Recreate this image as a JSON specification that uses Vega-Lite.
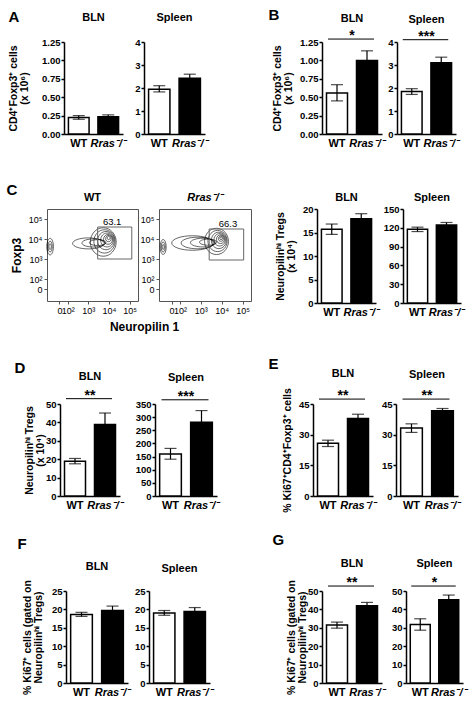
{
"$schema": "https://vega.github.io/schema/vega-lite/v6.json",
"background": "white",
"padding": {"left": 5, "top": 8, "right": 2, "bottom": 2},
"config": {
 "font": "Liberation Sans",
 "view": {"stroke": null},
 "axis": {"grid": false, "domainColor": "black", "domainWidth": 1.5, "tickColor": "black", "tickWidth": 1.5, "tickSize": 3, "labelColor": "black", "labelFontSize": 9.5, "labelFontWeight": "bold", "labelPadding": 1, "labelOverlap": false, "labelFlush": false, "titleColor": "black", "titleFontSize": 10.5, "titleFontWeight": "bold", "titleLineHeight": 11, "titlePadding": 4},
 "title": {"fontSize": 11, "fontWeight": "bold", "color": "black"}
},
"datasets": {
 "bars": [
  {"p":"A","t":"BLN","g":"WT","m":0.225,"lo":0.2,"hi":0.25},
  {"p":"A","t":"BLN","g":"Rras⁻/⁻","m":0.235,"lo":0.21,"hi":0.26},
  {"p":"A","t":"Spleen","g":"WT","m":1.95,"lo":1.83,"hi":2.1},
  {"p":"A","t":"Spleen","g":"Rras⁻/⁻","m":2.42,"lo":2.24,"hi":2.6},
  {"p":"B","t":"BLN","g":"WT","m":0.557,"lo":0.45,"hi":0.67},
  {"p":"B","t":"BLN","g":"Rras⁻/⁻","m":1.0,"lo":0.88,"hi":1.13},
  {"p":"B","t":"Spleen","g":"WT","m":1.85,"lo":1.72,"hi":1.97},
  {"p":"B","t":"Spleen","g":"Rras⁻/⁻","m":3.1,"lo":2.86,"hi":3.34},
  {"p":"C","t":"BLN","g":"WT","m":15.7,"lo":14.6,"hi":16.8},
  {"p":"C","t":"BLN","g":"Rras⁻/⁻","m":17.9,"lo":16.8,"hi":19},
  {"p":"C","t":"Spleen","g":"WT","m":117.5,"lo":114,"hi":121},
  {"p":"C","t":"Spleen","g":"Rras⁻/⁻","m":124.5,"lo":120.5,"hi":128.5},
  {"p":"D","t":"BLN","g":"WT","m":18.9,"lo":17.5,"hi":20.4},
  {"p":"D","t":"BLN","g":"Rras⁻/⁻","m":38.8,"lo":32.5,"hi":45.1},
  {"p":"D","t":"Spleen","g":"WT","m":160,"lo":140,"hi":181},
  {"p":"D","t":"Spleen","g":"Rras⁻/⁻","m":281,"lo":237,"hi":325},
  {"p":"E","t":"BLN","g":"WT","m":25.8,"lo":24.2,"hi":27.3},
  {"p":"E","t":"BLN","g":"Rras⁻/⁻","m":37.9,"lo":35.8,"hi":40},
  {"p":"E","t":"Spleen","g":"WT","m":33.2,"lo":31.1,"hi":35.3},
  {"p":"E","t":"Spleen","g":"Rras⁻/⁻","m":41.7,"lo":40.6,"hi":42.8},
  {"p":"F","t":"BLN","g":"WT","m":18.6,"lo":18.1,"hi":19.2},
  {"p":"F","t":"BLN","g":"Rras⁻/⁻","m":19.7,"lo":18.5,"hi":20.9},
  {"p":"F","t":"Spleen","g":"WT","m":19.0,"lo":18.4,"hi":19.7},
  {"p":"F","t":"Spleen","g":"Rras⁻/⁻","m":19.4,"lo":18.3,"hi":20.5},
  {"p":"G","t":"BLN","g":"WT","m":31.5,"lo":29.8,"hi":33.1},
  {"p":"G","t":"BLN","g":"Rras⁻/⁻","m":42,"lo":40.2,"hi":43.8},
  {"p":"G","t":"Spleen","g":"WT","m":31.8,"lo":28.7,"hi":34.9},
  {"p":"G","t":"Spleen","g":"Rras⁻/⁻","m":45.3,"lo":42.8,"hi":47.8}
 ],
 "sig": [
  {"p":"B","t":"BLN","ys":1.29,"s":"*"},
  {"p":"B","t":"Spleen","ys":4.1,"s":"***"},
  {"p":"D","t":"BLN","ys":52.9,"s":"**"},
  {"p":"D","t":"Spleen","ys":366,"s":"***"},
  {"p":"E","t":"BLN","ys":47.4,"s":"**"},
  {"p":"E","t":"Spleen","ys":47.4,"s":"**"},
  {"p":"G","t":"BLN","ys":52.7,"s":"**"},
  {"p":"G","t":"Spleen","ys":52.7,"s":"*"}
 ],
 "flow": [
  {"plot":"WT","kind":"blob","cx":3.72,"cy":3.85,"r":0.78},
  {"plot":"WT","kind":"blob","cx":3.78,"cy":3.88,"r":0.64},
  {"plot":"WT","kind":"blob","cx":3.85,"cy":3.92,"r":0.5},
  {"plot":"WT","kind":"blob","cx":3.9,"cy":3.95,"r":0.38},
  {"plot":"WT","kind":"blob","cx":3.95,"cy":3.98,"r":0.27},
  {"plot":"WT","kind":"blob","cx":3.97,"cy":4.02,"r":0.17},
  {"plot":"WT","kind":"blob","cx":3.98,"cy":4.05,"r":0.09},
  {"plot":"WT","kind":"tail","cx":3.0,"cy":3.78,"r":0.95},
  {"plot":"WT","kind":"tail","cx":3.25,"cy":3.8,"r":0.7},
  {"plot":"WT","kind":"tail","cx":3.45,"cy":3.82,"r":0.5},
  {"plot":"WT","kind":"side","cx":1.15,"cy":3.62,"r":0.2},
  {"plot":"WT","kind":"side","cx":1.15,"cy":3.62,"r":0.13},
  {"plot":"WT","kind":"side","cx":1.15,"cy":3.62,"r":0.07},
  {"plot":"KO","kind":"blob","cx":3.75,"cy":3.88,"r":0.72},
  {"plot":"KO","kind":"blob","cx":3.8,"cy":3.9,"r":0.58},
  {"plot":"KO","kind":"blob","cx":3.86,"cy":3.93,"r":0.45},
  {"plot":"KO","kind":"blob","cx":3.9,"cy":3.96,"r":0.34},
  {"plot":"KO","kind":"blob","cx":3.94,"cy":3.99,"r":0.24},
  {"plot":"KO","kind":"blob","cx":3.96,"cy":4.02,"r":0.15},
  {"plot":"KO","kind":"blob","cx":3.97,"cy":4.04,"r":0.08},
  {"plot":"KO","kind":"tail","cx":2.6,"cy":3.8,"r":1.25},
  {"plot":"KO","kind":"tail","cx":2.85,"cy":3.8,"r":1.0},
  {"plot":"KO","kind":"tail","cx":3.1,"cy":3.82,"r":0.75},
  {"plot":"KO","kind":"tail","cx":3.35,"cy":3.84,"r":0.52},
  {"plot":"KO","kind":"side","cx":1.2,"cy":3.6,"r":0.18},
  {"plot":"KO","kind":"side","cx":1.2,"cy":3.6,"r":0.12},
  {"plot":"KO","kind":"side","cx":1.2,"cy":3.6,"r":0.06}
 ],
 "gates": [
  {"plot":"WT","gx1":3.45,"gx2":5.1,"gy1":3.0,"gy2":4.6,"lx":4.15,"ly":4.6,"pct":"63.1"},
  {"plot":"KO","gx1":3.4,"gx2":5.05,"gy1":2.95,"gy2":4.5,"lx":4.3,"ly":4.5,"pct":"66.3"}
 ]
},
"spacing": 23,
"vconcat": [
{"spacing": 34, "vconcat": [
 {"spacing": 2, "hconcat": [
  {"width": 1, "height": 1, "data": {"values": []}, "mark": "point", "encoding": {}},
  {"spacing": 60, "hconcat": [
  {"title": {"text": "A", "anchor": "start", "fontSize": 15, "fontWeight": "bold", "offset": -13}, "spacing": 8, "hconcat": [
   {"width": 59, "height": 92, "title": {"text": "BLN", "offset": 18, "dy": 4, "frame": "group"},
    "layer": [
     {"data": {"name": "bars"}, "transform": [{"filter": "datum.p == 'A' && datum.t == 'BLN'"}],
      "encoding": {"x": {"field": "g", "type": "nominal", "sort": null, "scale": {"domain": ["WT", "Rras⁻/⁻"], "paddingInner": 0.3, "paddingOuter": 0.15}, "axis": {"title": null, "ticks": false, "labelFontSize": 11, "labelAngle": 0, "labelPadding": 3, "labelFontStyle": {"condition": {"test": "datum.value == 'WT'", "value": "normal"}, "value": "italic"}}}},
      "layer": [
       {"mark": {"type": "bar", "stroke": "black", "strokeWidth": 1.5}, "encoding": {"y": {"field": "m", "type": "quantitative", "scale": {"domain": [0, 1.25], "nice": false}, "axis": {"values": [0, 0.25, 0.5, 0.75, 1, 1.25], "tickCount": 20, "format": ".2f", "titlePadding": 12, "title": ["CD4⁺Foxp3⁺ cells", "(x 10⁶)"]}}, "fill": {"field": "g", "type": "nominal", "scale": {"domain": ["WT", "Rras⁻/⁻"], "range": ["white", "black"]}, "legend": null}}},
       {"mark": {"type": "rule", "color": "black", "strokeWidth": 1.2}, "encoding": {"y": {"field": "lo", "type": "quantitative"}, "y2": {"field": "hi"}}},
       {"mark": {"type": "tick", "orient": "horizontal", "size": 12, "thickness": 1.2, "color": "black"}, "encoding": {"y": {"field": "hi", "type": "quantitative"}}},
       {"mark": {"type": "tick", "orient": "horizontal", "size": 12, "thickness": 1.2, "color": "black"}, "encoding": {"y": {"field": "lo", "type": "quantitative"}}}
      ]}
    ]},
   {"width": 61, "height": 92, "title": {"text": "Spleen", "offset": 18, "dy": 4, "frame": "group"},
    "layer": [
     {"data": {"name": "bars"}, "transform": [{"filter": "datum.p == 'A' && datum.t == 'Spleen'"}],
      "encoding": {"x": {"field": "g", "type": "nominal", "sort": null, "scale": {"domain": ["WT", "Rras⁻/⁻"], "paddingInner": 0.3, "paddingOuter": 0.15}, "axis": {"title": null, "ticks": false, "labelFontSize": 11, "labelAngle": 0, "labelPadding": 3, "labelFontStyle": {"condition": {"test": "datum.value == 'WT'", "value": "normal"}, "value": "italic"}}}},
      "layer": [
       {"mark": {"type": "bar", "stroke": "black", "strokeWidth": 1.5}, "encoding": {"y": {"field": "m", "type": "quantitative", "scale": {"domain": [0, 4], "nice": false}, "axis": {"values": [0, 1, 2, 3, 4], "tickCount": 20, "format": "d", "title": null}}, "fill": {"field": "g", "type": "nominal", "scale": {"domain": ["WT", "Rras⁻/⁻"], "range": ["white", "black"]}, "legend": null}}},
       {"mark": {"type": "rule", "color": "black", "strokeWidth": 1.2}, "encoding": {"y": {"field": "lo", "type": "quantitative"}, "y2": {"field": "hi"}}},
       {"mark": {"type": "tick", "orient": "horizontal", "size": 12, "thickness": 1.2, "color": "black"}, "encoding": {"y": {"field": "hi", "type": "quantitative"}}},
       {"mark": {"type": "tick", "orient": "horizontal", "size": 12, "thickness": 1.2, "color": "black"}, "encoding": {"y": {"field": "lo", "type": "quantitative"}}}
      ]}
    ]}
  ]},
  {"title": {"text": "B", "anchor": "start", "fontSize": 15, "fontWeight": "bold", "offset": -10, "dx": -4}, "spacing": 2, "hconcat": [
   {"width": 60, "height": 92, "title": {"text": "BLN", "offset": 5, "frame": "group"},
    "layer": [
     {"data": {"name": "bars"}, "transform": [{"filter": "datum.p == 'B' && datum.t == 'BLN'"}],
      "encoding": {"x": {"field": "g", "type": "nominal", "sort": null, "scale": {"domain": ["WT", "Rras⁻/⁻"], "paddingInner": 0.3, "paddingOuter": 0.15}, "axis": {"title": null, "ticks": false, "labelFontSize": 11, "labelAngle": 0, "labelPadding": 3, "labelFontStyle": {"condition": {"test": "datum.value == 'WT'", "value": "normal"}, "value": "italic"}}}},
      "layer": [
       {"mark": {"type": "bar", "stroke": "black", "strokeWidth": 1.5}, "encoding": {"y": {"field": "m", "type": "quantitative", "scale": {"domain": [0, 1.25], "nice": false}, "axis": {"values": [0, 0.25, 0.5, 0.75, 1, 1.25], "tickCount": 20, "format": ".2f", "titlePadding": 6, "title": ["CD4⁺Foxp3⁺ cells", "(x 10⁶)"]}}, "fill": {"field": "g", "type": "nominal", "scale": {"domain": ["WT", "Rras⁻/⁻"], "range": ["white", "black"]}, "legend": null}}},
       {"mark": {"type": "rule", "color": "black", "strokeWidth": 1.2}, "encoding": {"y": {"field": "lo", "type": "quantitative"}, "y2": {"field": "hi"}}},
       {"mark": {"type": "tick", "orient": "horizontal", "size": 12, "thickness": 1.2, "color": "black"}, "encoding": {"y": {"field": "hi", "type": "quantitative"}}},
       {"mark": {"type": "tick", "orient": "horizontal", "size": 12, "thickness": 1.2, "color": "black"}, "encoding": {"y": {"field": "lo", "type": "quantitative"}}}
      ]},
     {"data": {"name": "sig"}, "transform": [{"filter": "datum.p == 'B' && datum.t == 'BLN'"}],
      "layer": [
       {"mark": {"type": "rule", "color": "black", "strokeWidth": 1, "xOffset": -9, "x2Offset": 7}, "encoding": {"x": {"datum": "WT"}, "x2": {"datum": "Rras⁻/⁻"}, "y": {"field": "ys", "type": "quantitative"}}},
       {"mark": {"type": "text", "fontSize": 14, "fontWeight": "bold", "baseline": "alphabetic", "dy": 1}, "encoding": {"x": {"datum": "WT", "bandPosition": 1.21}, "y": {"field": "ys", "type": "quantitative"}, "text": {"field": "s"}}}
      ]}
    ]},
   {"width": 59, "height": 92, "title": {"text": "Spleen", "offset": 5, "frame": "group"},
    "layer": [
     {"data": {"name": "bars"}, "transform": [{"filter": "datum.p == 'B' && datum.t == 'Spleen'"}],
      "encoding": {"x": {"field": "g", "type": "nominal", "sort": null, "scale": {"domain": ["WT", "Rras⁻/⁻"], "paddingInner": 0.3, "paddingOuter": 0.15}, "axis": {"title": null, "ticks": false, "labelFontSize": 11, "labelAngle": 0, "labelPadding": 3, "labelFontStyle": {"condition": {"test": "datum.value == 'WT'", "value": "normal"}, "value": "italic"}}}},
      "layer": [
       {"mark": {"type": "bar", "stroke": "black", "strokeWidth": 1.5}, "encoding": {"y": {"field": "m", "type": "quantitative", "scale": {"domain": [0, 4], "nice": false}, "axis": {"values": [0, 1, 2, 3, 4], "tickCount": 20, "format": "d", "title": null}}, "fill": {"field": "g", "type": "nominal", "scale": {"domain": ["WT", "Rras⁻/⁻"], "range": ["white", "black"]}, "legend": null}}},
       {"mark": {"type": "rule", "color": "black", "strokeWidth": 1.2}, "encoding": {"y": {"field": "lo", "type": "quantitative"}, "y2": {"field": "hi"}}},
       {"mark": {"type": "tick", "orient": "horizontal", "size": 12, "thickness": 1.2, "color": "black"}, "encoding": {"y": {"field": "hi", "type": "quantitative"}}},
       {"mark": {"type": "tick", "orient": "horizontal", "size": 12, "thickness": 1.2, "color": "black"}, "encoding": {"y": {"field": "lo", "type": "quantitative"}}}
      ]},
     {"data": {"name": "sig"}, "transform": [{"filter": "datum.p == 'B' && datum.t == 'Spleen'"}],
      "layer": [
       {"mark": {"type": "rule", "color": "black", "strokeWidth": 1, "xOffset": -9, "x2Offset": 7}, "encoding": {"x": {"datum": "WT"}, "x2": {"datum": "Rras⁻/⁻"}, "y": {"field": "ys", "type": "quantitative"}}},
       {"mark": {"type": "text", "fontSize": 14, "fontWeight": "bold", "baseline": "alphabetic", "dy": 1}, "encoding": {"x": {"datum": "WT", "bandPosition": 1.21}, "y": {"field": "ys", "type": "quantitative"}, "text": {"field": "s"}}}
      ]}
    ]}
  ]}
  ]}
 ]},
 {"spacing": 0, "hconcat": [
  {"width": 1, "height": 1, "data": {"values": []}, "mark": "point", "encoding": {}},
  {"spacing": 23, "hconcat": [
  {"title": {"text": "C", "anchor": "start", "fontSize": 15, "fontWeight": "bold", "offset": -6, "dx": -3}, "hconcat": [
   {"title": {"text": "Neuropilin 1", "orient": "bottom", "anchor": "middle", "fontSize": 12, "fontWeight": "bold", "offset": 6, "dx": 14}, "spacing": 0, "hconcat": [
    {"width": 91, "height": 92, "title": {"text": "WT", "offset": 6, "frame": "group"}, "view": {"stroke": "#555", "strokeWidth": 1},
     "layer": [
      {"data": {"name": "flow"}, "transform": [{"filter": "datum.plot == 'WT'"}],
       "mark": {"type": "point", "filled": false, "color": "black", "strokeWidth": 0.6, "opacity": 1},
       "encoding": {
        "x": {"field": "cx", "type": "quantitative", "scale": {"domain": [1, 5.4], "nice": false, "zero": false}, "axis": {"values": [1.6, 2, 3, 4, 5], "tickCount": 20, "labelExpr": "datum.value < 1.8 ? '0' : datum.value == 2 ? '10²' : datum.value == 3 ? '10³' : datum.value == 4 ? '10⁴' : '10⁵'", "title": null, "domain": false, "tickColor": "#555", "tickWidth": 1, "tickSize": 3, "labelFontWeight": "normal", "labelFontSize": 9, "labelPadding": 2}},
        "y": {"field": "cy", "type": "quantitative", "scale": {"domain": [0.9, 5.5], "nice": false, "zero": false}, "axis": {"values": [1.5, 2, 3, 4, 5], "tickCount": 20, "labelExpr": "datum.value < 1.8 ? '0' : datum.value == 2 ? '10²' : datum.value == 3 ? '10³' : datum.value == 4 ? '10⁴' : '10⁵'", "title": "Foxp3", "titleFontSize": 12, "titlePadding": 5, "domain": false, "tickColor": "#555", "tickWidth": 1, "tickSize": 3, "labelFontWeight": "normal", "labelFontSize": 9, "labelPadding": 2}},
        "size": {"field": "r", "type": "quantitative", "scale": {"type": "pow", "exponent": 2, "domain": [0, 1], "range": [0, 1100]}, "legend": null},
        "shape": {"field": "kind", "type": "nominal", "scale": {"domain": ["blob", "tail", "side"], "range": ["M-1,0A1,1.1,0,1,0,1,0A1,1.1,0,1,0,-1,0Z", "M-1,0A1,0.35,0,1,0,1,0A1,0.35,0,1,0,-1,0Z", "M-1,0A1,2.5,0,1,0,1,0A1,2.5,0,1,0,-1,0Z"]}, "legend": null}
       }},
      {"data": {"name": "gates"}, "transform": [{"filter": "datum.plot == 'WT'"}], "mark": {"type": "rect", "fillOpacity": 0, "stroke": "#666", "strokeWidth": 1}, "encoding": {"x": {"field": "gx1", "type": "quantitative"}, "x2": {"field": "gx2"}, "y": {"field": "gy1", "type": "quantitative"}, "y2": {"field": "gy2"}}},
      {"data": {"name": "gates"}, "transform": [{"filter": "datum.plot == 'WT'"}], "mark": {"type": "text", "fontSize": 9.5, "baseline": "bottom", "color": "black"}, "encoding": {"x": {"field": "lx", "type": "quantitative"}, "y": {"field": "ly", "type": "quantitative"}, "text": {"field": "pct"}}}
     ]},
    {"width": 92, "height": 92, "title": {"text": "Rras⁻/⁻", "offset": 6, "frame": "group", "fontStyle": "italic"}, "view": {"stroke": "#555", "strokeWidth": 1},
     "layer": [
      {"data": {"name": "flow"}, "transform": [{"filter": "datum.plot == 'KO'"}],
       "mark": {"type": "point", "filled": false, "color": "black", "strokeWidth": 0.6, "opacity": 1},
       "encoding": {
        "x": {"field": "cx", "type": "quantitative", "scale": {"domain": [1, 5.4], "nice": false, "zero": false}, "axis": {"values": [1.6, 2, 3, 4, 5], "tickCount": 20, "labelExpr": "datum.value < 1.8 ? '0' : datum.value == 2 ? '10²' : datum.value == 3 ? '10³' : datum.value == 4 ? '10⁴' : '10⁵'", "title": null, "domain": false, "tickColor": "#555", "tickWidth": 1, "tickSize": 3, "labelFontWeight": "normal", "labelFontSize": 9, "labelPadding": 2}},
        "y": {"field": "cy", "type": "quantitative", "scale": {"domain": [0.9, 5.5], "nice": false, "zero": false}, "axis": {"values": [1.5, 2, 3, 4, 5], "tickCount": 20, "labelExpr": "datum.value < 1.8 ? '0' : datum.value == 2 ? '10²' : datum.value == 3 ? '10³' : datum.value == 4 ? '10⁴' : '10⁵'", "title": null, "domain": false, "tickColor": "#555", "tickWidth": 1, "tickSize": 3, "labelFontWeight": "normal", "labelFontSize": 9, "labelPadding": 2}},
        "size": {"field": "r", "type": "quantitative", "scale": {"type": "pow", "exponent": 2, "domain": [0, 1], "range": [0, 1100]}, "legend": null},
        "shape": {"field": "kind", "type": "nominal", "scale": {"domain": ["blob", "tail", "side"], "range": ["M-1,0A1,1.1,0,1,0,1,0A1,1.1,0,1,0,-1,0Z", "M-1,0A1,0.35,0,1,0,1,0A1,0.35,0,1,0,-1,0Z", "M-1,0A1,2.5,0,1,0,1,0A1,2.5,0,1,0,-1,0Z"]}, "legend": null}
       }},
      {"data": {"name": "gates"}, "transform": [{"filter": "datum.plot == 'KO'"}], "mark": {"type": "rect", "fillOpacity": 0, "stroke": "#666", "strokeWidth": 1}, "encoding": {"x": {"field": "gx1", "type": "quantitative"}, "x2": {"field": "gx2"}, "y": {"field": "gy1", "type": "quantitative"}, "y2": {"field": "gy2"}}},
      {"data": {"name": "gates"}, "transform": [{"filter": "datum.plot == 'KO'"}], "mark": {"type": "text", "fontSize": 9.5, "baseline": "bottom", "color": "black"}, "encoding": {"x": {"field": "lx", "type": "quantitative"}, "y": {"field": "ly", "type": "quantitative"}, "text": {"field": "pct"}}}
     ]}
   ]}
  ]},
  {"spacing": 4, "hconcat": [
   {"width": 59, "height": 94, "title": {"text": "BLN", "offset": 1, "frame": "group"},
    "layer": [
     {"data": {"name": "bars"}, "transform": [{"filter": "datum.p == 'C' && datum.t == 'BLN'"}],
      "encoding": {"x": {"field": "g", "type": "nominal", "sort": null, "scale": {"domain": ["WT", "Rras⁻/⁻"], "paddingInner": 0.3, "paddingOuter": 0.15}, "axis": {"title": null, "ticks": false, "labelFontSize": 11, "labelAngle": 0, "labelPadding": 3, "labelFontStyle": {"condition": {"test": "datum.value == 'WT'", "value": "normal"}, "value": "italic"}}}},
      "layer": [
       {"mark": {"type": "bar", "stroke": "black", "strokeWidth": 1.5}, "encoding": {"y": {"field": "m", "type": "quantitative", "scale": {"domain": [0, 20], "nice": false}, "axis": {"values": [0, 5, 10, 15, 20], "tickCount": 20, "format": "d", "titlePadding": 6, "title": ["Neuropilinʰⁱ Tregs", "(x 10⁴)"]}}, "fill": {"field": "g", "type": "nominal", "scale": {"domain": ["WT", "Rras⁻/⁻"], "range": ["white", "black"]}, "legend": null}}},
       {"mark": {"type": "rule", "color": "black", "strokeWidth": 1.2}, "encoding": {"y": {"field": "lo", "type": "quantitative"}, "y2": {"field": "hi"}}},
       {"mark": {"type": "tick", "orient": "horizontal", "size": 12, "thickness": 1.2, "color": "black"}, "encoding": {"y": {"field": "hi", "type": "quantitative"}}},
       {"mark": {"type": "tick", "orient": "horizontal", "size": 12, "thickness": 1.2, "color": "black"}, "encoding": {"y": {"field": "lo", "type": "quantitative"}}}
      ]}
    ]},
   {"width": 58, "height": 94, "title": {"text": "Spleen", "offset": 1, "frame": "group"},
    "layer": [
     {"data": {"name": "bars"}, "transform": [{"filter": "datum.p == 'C' && datum.t == 'Spleen'"}],
      "encoding": {"x": {"field": "g", "type": "nominal", "sort": null, "scale": {"domain": ["WT", "Rras⁻/⁻"], "paddingInner": 0.3, "paddingOuter": 0.15}, "axis": {"title": null, "ticks": false, "labelFontSize": 11, "labelAngle": 0, "labelPadding": 3, "labelFontStyle": {"condition": {"test": "datum.value == 'WT'", "value": "normal"}, "value": "italic"}}}},
      "layer": [
       {"mark": {"type": "bar", "stroke": "black", "strokeWidth": 1.5}, "encoding": {"y": {"field": "m", "type": "quantitative", "scale": {"domain": [0, 150], "nice": false}, "axis": {"values": [0, 30, 60, 90, 120, 150], "tickCount": 20, "format": "d", "title": null}}, "fill": {"field": "g", "type": "nominal", "scale": {"domain": ["WT", "Rras⁻/⁻"], "range": ["white", "black"]}, "legend": null}}},
       {"mark": {"type": "rule", "color": "black", "strokeWidth": 1.2}, "encoding": {"y": {"field": "lo", "type": "quantitative"}, "y2": {"field": "hi"}}},
       {"mark": {"type": "tick", "orient": "horizontal", "size": 12, "thickness": 1.2, "color": "black"}, "encoding": {"y": {"field": "hi", "type": "quantitative"}}},
       {"mark": {"type": "tick", "orient": "horizontal", "size": 12, "thickness": 1.2, "color": "black"}, "encoding": {"y": {"field": "lo", "type": "quantitative"}}}
      ]}
    ]}
  ]}
  ]}
 ]}
]},
{"spacing": 20, "vconcat": [
 {"spacing": 8, "hconcat": [
  {"width": 1, "height": 1, "data": {"values": []}, "mark": "point", "encoding": {}},
  {"spacing": 49, "hconcat": [
  {"title": {"text": "D", "anchor": "start", "fontSize": 15, "fontWeight": "bold", "offset": -5, "dx": -10}, "spacing": 12, "hconcat": [
   {"width": 60, "height": 92, "title": {"text": "BLN", "offset": 7, "frame": "group"},
    "layer": [
     {"data": {"name": "bars"}, "transform": [{"filter": "datum.p == 'D' && datum.t == 'BLN'"}],
      "encoding": {"x": {"field": "g", "type": "nominal", "sort": null, "scale": {"domain": ["WT", "Rras⁻/⁻"], "paddingInner": 0.3, "paddingOuter": 0.15}, "axis": {"title": null, "ticks": false, "labelFontSize": 11, "labelAngle": 0, "labelPadding": 3, "labelFontStyle": {"condition": {"test": "datum.value == 'WT'", "value": "normal"}, "value": "italic"}}}},
      "layer": [
       {"mark": {"type": "bar", "stroke": "black", "strokeWidth": 1.5}, "encoding": {"y": {"field": "m", "type": "quantitative", "scale": {"domain": [0, 50], "nice": false}, "axis": {"values": [0, 10, 20, 30, 40, 50], "tickCount": 20, "format": "d", "titlePadding": 0, "title": ["Neuropilinʰⁱ Tregs", "(x 10⁴)"]}}, "fill": {"field": "g", "type": "nominal", "scale": {"domain": ["WT", "Rras⁻/⁻"], "range": ["white", "black"]}, "legend": null}}},
       {"mark": {"type": "rule", "color": "black", "strokeWidth": 1.2}, "encoding": {"y": {"field": "lo", "type": "quantitative"}, "y2": {"field": "hi"}}},
       {"mark": {"type": "tick", "orient": "horizontal", "size": 12, "thickness": 1.2, "color": "black"}, "encoding": {"y": {"field": "hi", "type": "quantitative"}}},
       {"mark": {"type": "tick", "orient": "horizontal", "size": 12, "thickness": 1.2, "color": "black"}, "encoding": {"y": {"field": "lo", "type": "quantitative"}}}
      ]},
     {"data": {"name": "sig"}, "transform": [{"filter": "datum.p == 'D' && datum.t == 'BLN'"}],
      "layer": [
       {"mark": {"type": "rule", "color": "black", "strokeWidth": 1, "xOffset": -9, "x2Offset": 7}, "encoding": {"x": {"datum": "WT"}, "x2": {"datum": "Rras⁻/⁻"}, "y": {"field": "ys", "type": "quantitative"}}},
       {"mark": {"type": "text", "fontSize": 14, "fontWeight": "bold", "baseline": "alphabetic", "dy": 1}, "encoding": {"x": {"datum": "WT", "bandPosition": 1.21}, "y": {"field": "ys", "type": "quantitative"}, "text": {"field": "s"}}}
      ]}
    ]},
   {"width": 62, "height": 92, "title": {"text": "Spleen", "offset": 7, "frame": "group"},
    "layer": [
     {"data": {"name": "bars"}, "transform": [{"filter": "datum.p == 'D' && datum.t == 'Spleen'"}],
      "encoding": {"x": {"field": "g", "type": "nominal", "sort": null, "scale": {"domain": ["WT", "Rras⁻/⁻"], "paddingInner": 0.3, "paddingOuter": 0.15}, "axis": {"title": null, "ticks": false, "labelFontSize": 11, "labelAngle": 0, "labelPadding": 3, "labelFontStyle": {"condition": {"test": "datum.value == 'WT'", "value": "normal"}, "value": "italic"}}}},
      "layer": [
       {"mark": {"type": "bar", "stroke": "black", "strokeWidth": 1.5}, "encoding": {"y": {"field": "m", "type": "quantitative", "scale": {"domain": [0, 350], "nice": false}, "axis": {"values": [0, 50, 100, 150, 200, 250, 300, 350], "tickCount": 20, "format": "d", "title": null}}, "fill": {"field": "g", "type": "nominal", "scale": {"domain": ["WT", "Rras⁻/⁻"], "range": ["white", "black"]}, "legend": null}}},
       {"mark": {"type": "rule", "color": "black", "strokeWidth": 1.2}, "encoding": {"y": {"field": "lo", "type": "quantitative"}, "y2": {"field": "hi"}}},
       {"mark": {"type": "tick", "orient": "horizontal", "size": 12, "thickness": 1.2, "color": "black"}, "encoding": {"y": {"field": "hi", "type": "quantitative"}}},
       {"mark": {"type": "tick", "orient": "horizontal", "size": 12, "thickness": 1.2, "color": "black"}, "encoding": {"y": {"field": "lo", "type": "quantitative"}}}
      ]},
     {"data": {"name": "sig"}, "transform": [{"filter": "datum.p == 'D' && datum.t == 'Spleen'"}],
      "layer": [
       {"mark": {"type": "rule", "color": "black", "strokeWidth": 1, "xOffset": -9, "x2Offset": 7}, "encoding": {"x": {"datum": "WT"}, "x2": {"datum": "Rras⁻/⁻"}, "y": {"field": "ys", "type": "quantitative"}}},
       {"mark": {"type": "text", "fontSize": 14, "fontWeight": "bold", "baseline": "alphabetic", "dy": 1}, "encoding": {"x": {"datum": "WT", "bandPosition": 1.21}, "y": {"field": "ys", "type": "quantitative"}, "text": {"field": "s"}}}
      ]}
    ]}
  ]},
  {"title": {"text": "E", "anchor": "start", "fontSize": 15, "fontWeight": "bold", "offset": -4, "dx": -14}, "spacing": 5, "hconcat": [
   {"width": 60, "height": 92, "title": {"text": "BLN", "offset": 9, "frame": "group"},
    "layer": [
     {"data": {"name": "bars"}, "transform": [{"filter": "datum.p == 'E' && datum.t == 'BLN'"}],
      "encoding": {"x": {"field": "g", "type": "nominal", "sort": null, "scale": {"domain": ["WT", "Rras⁻/⁻"], "paddingInner": 0.3, "paddingOuter": 0.15}, "axis": {"title": null, "ticks": false, "labelFontSize": 11, "labelAngle": 0, "labelPadding": 3, "labelFontStyle": {"condition": {"test": "datum.value == 'WT'", "value": "normal"}, "value": "italic"}}}},
      "layer": [
       {"mark": {"type": "bar", "stroke": "black", "strokeWidth": 1.5}, "encoding": {"y": {"field": "m", "type": "quantitative", "scale": {"domain": [0, 45], "nice": false}, "axis": {"values": [0, 15, 30, 45], "tickCount": 20, "format": "d", "titlePadding": 6, "title": "% Ki67⁺CD4⁺Foxp3⁺ cells"}}, "fill": {"field": "g", "type": "nominal", "scale": {"domain": ["WT", "Rras⁻/⁻"], "range": ["white", "black"]}, "legend": null}}},
       {"mark": {"type": "rule", "color": "black", "strokeWidth": 1.2}, "encoding": {"y": {"field": "lo", "type": "quantitative"}, "y2": {"field": "hi"}}},
       {"mark": {"type": "tick", "orient": "horizontal", "size": 12, "thickness": 1.2, "color": "black"}, "encoding": {"y": {"field": "hi", "type": "quantitative"}}},
       {"mark": {"type": "tick", "orient": "horizontal", "size": 12, "thickness": 1.2, "color": "black"}, "encoding": {"y": {"field": "lo", "type": "quantitative"}}}
      ]},
     {"data": {"name": "sig"}, "transform": [{"filter": "datum.p == 'E' && datum.t == 'BLN'"}],
      "layer": [
       {"mark": {"type": "rule", "color": "black", "strokeWidth": 1, "xOffset": -9, "x2Offset": 7}, "encoding": {"x": {"datum": "WT"}, "x2": {"datum": "Rras⁻/⁻"}, "y": {"field": "ys", "type": "quantitative"}}},
       {"mark": {"type": "text", "fontSize": 14, "fontWeight": "bold", "baseline": "alphabetic", "dy": 1}, "encoding": {"x": {"datum": "WT", "bandPosition": 1.21}, "y": {"field": "ys", "type": "quantitative"}, "text": {"field": "s"}}}
      ]}
    ]},
   {"width": 62, "height": 92, "title": {"text": "Spleen", "offset": 9, "frame": "group"},
    "layer": [
     {"data": {"name": "bars"}, "transform": [{"filter": "datum.p == 'E' && datum.t == 'Spleen'"}],
      "encoding": {"x": {"field": "g", "type": "nominal", "sort": null, "scale": {"domain": ["WT", "Rras⁻/⁻"], "paddingInner": 0.3, "paddingOuter": 0.15}, "axis": {"title": null, "ticks": false, "labelFontSize": 11, "labelAngle": 0, "labelPadding": 3, "labelFontStyle": {"condition": {"test": "datum.value == 'WT'", "value": "normal"}, "value": "italic"}}}},
      "layer": [
       {"mark": {"type": "bar", "stroke": "black", "strokeWidth": 1.5}, "encoding": {"y": {"field": "m", "type": "quantitative", "scale": {"domain": [0, 45], "nice": false}, "axis": {"values": [0, 15, 30, 45], "tickCount": 20, "format": "d", "title": null}}, "fill": {"field": "g", "type": "nominal", "scale": {"domain": ["WT", "Rras⁻/⁻"], "range": ["white", "black"]}, "legend": null}}},
       {"mark": {"type": "rule", "color": "black", "strokeWidth": 1.2}, "encoding": {"y": {"field": "lo", "type": "quantitative"}, "y2": {"field": "hi"}}},
       {"mark": {"type": "tick", "orient": "horizontal", "size": 12, "thickness": 1.2, "color": "black"}, "encoding": {"y": {"field": "hi", "type": "quantitative"}}},
       {"mark": {"type": "tick", "orient": "horizontal", "size": 12, "thickness": 1.2, "color": "black"}, "encoding": {"y": {"field": "lo", "type": "quantitative"}}}
      ]},
     {"data": {"name": "sig"}, "transform": [{"filter": "datum.p == 'E' && datum.t == 'Spleen'"}],
      "layer": [
       {"mark": {"type": "rule", "color": "black", "strokeWidth": 1, "xOffset": -9, "x2Offset": 7}, "encoding": {"x": {"datum": "WT"}, "x2": {"datum": "Rras⁻/⁻"}, "y": {"field": "ys", "type": "quantitative"}}},
       {"mark": {"type": "text", "fontSize": 14, "fontWeight": "bold", "baseline": "alphabetic", "dy": 1}, "encoding": {"x": {"datum": "WT", "bandPosition": 1.21}, "y": {"field": "ys", "type": "quantitative"}, "text": {"field": "s"}}}
      ]}
    ]}
  ]}
  ]}
 ]},
 {"spacing": 11, "hconcat": [
  {"width": 1, "height": 1, "data": {"values": []}, "mark": "point", "encoding": {}},
  {"spacing": 59, "hconcat": [
  {"title": {"text": "F", "anchor": "start", "fontSize": 15, "fontWeight": "bold", "offset": -3, "dx": -5, "dy": -12}, "spacing": 4, "hconcat": [
   {"width": 62, "height": 92, "title": {"text": "BLN", "offset": 8, "frame": "group"},
    "layer": [
     {"data": {"name": "bars"}, "transform": [{"filter": "datum.p == 'F' && datum.t == 'BLN'"}],
      "encoding": {"x": {"field": "g", "type": "nominal", "sort": null, "scale": {"domain": ["WT", "Rras⁻/⁻"], "paddingInner": 0.3, "paddingOuter": 0.15}, "axis": {"title": null, "ticks": false, "labelFontSize": 11, "labelAngle": 0, "labelPadding": 3, "labelFontStyle": {"condition": {"test": "datum.value == 'WT'", "value": "normal"}, "value": "italic"}}}},
      "layer": [
       {"mark": {"type": "bar", "stroke": "black", "strokeWidth": 1.5}, "encoding": {"y": {"field": "m", "type": "quantitative", "scale": {"domain": [0, 25], "nice": false}, "axis": {"values": [0, 5, 10, 15, 20, 25], "tickCount": 20, "format": "d", "titlePadding": 8, "title": ["% Ki67⁺ cells (gated on", "Neuropilinʰⁱ Tregs)"]}}, "fill": {"field": "g", "type": "nominal", "scale": {"domain": ["WT", "Rras⁻/⁻"], "range": ["white", "black"]}, "legend": null}}},
       {"mark": {"type": "rule", "color": "black", "strokeWidth": 1.2}, "encoding": {"y": {"field": "lo", "type": "quantitative"}, "y2": {"field": "hi"}}},
       {"mark": {"type": "tick", "orient": "horizontal", "size": 12, "thickness": 1.2, "color": "black"}, "encoding": {"y": {"field": "hi", "type": "quantitative"}}},
       {"mark": {"type": "tick", "orient": "horizontal", "size": 12, "thickness": 1.2, "color": "black"}, "encoding": {"y": {"field": "lo", "type": "quantitative"}}}
      ]}
    ]},
   {"width": 61, "height": 92, "title": {"text": "Spleen", "offset": 18, "dy": 6, "frame": "group"},
    "layer": [
     {"data": {"name": "bars"}, "transform": [{"filter": "datum.p == 'F' && datum.t == 'Spleen'"}],
      "encoding": {"x": {"field": "g", "type": "nominal", "sort": null, "scale": {"domain": ["WT", "Rras⁻/⁻"], "paddingInner": 0.3, "paddingOuter": 0.15}, "axis": {"title": null, "ticks": false, "labelFontSize": 11, "labelAngle": 0, "labelPadding": 3, "labelFontStyle": {"condition": {"test": "datum.value == 'WT'", "value": "normal"}, "value": "italic"}}}},
      "layer": [
       {"mark": {"type": "bar", "stroke": "black", "strokeWidth": 1.5}, "encoding": {"y": {"field": "m", "type": "quantitative", "scale": {"domain": [0, 25], "nice": false}, "axis": {"values": [0, 5, 10, 15, 20, 25], "tickCount": 20, "format": "d", "title": null}}, "fill": {"field": "g", "type": "nominal", "scale": {"domain": ["WT", "Rras⁻/⁻"], "range": ["white", "black"]}, "legend": null}}},
       {"mark": {"type": "rule", "color": "black", "strokeWidth": 1.2}, "encoding": {"y": {"field": "lo", "type": "quantitative"}, "y2": {"field": "hi"}}},
       {"mark": {"type": "tick", "orient": "horizontal", "size": 12, "thickness": 1.2, "color": "black"}, "encoding": {"y": {"field": "hi", "type": "quantitative"}}},
       {"mark": {"type": "tick", "orient": "horizontal", "size": 12, "thickness": 1.2, "color": "black"}, "encoding": {"y": {"field": "lo", "type": "quantitative"}}}
      ]}
    ]}
  ]},
  {"title": {"text": "G", "anchor": "start", "fontSize": 15, "fontWeight": "bold", "offset": -2, "dx": -14, "dy": -12}, "spacing": 6, "hconcat": [
   {"width": 60, "height": 92, "title": {"text": "BLN", "offset": 7, "frame": "group"},
    "layer": [
     {"data": {"name": "bars"}, "transform": [{"filter": "datum.p == 'G' && datum.t == 'BLN'"}],
      "encoding": {"x": {"field": "g", "type": "nominal", "sort": null, "scale": {"domain": ["WT", "Rras⁻/⁻"], "paddingInner": 0.3, "paddingOuter": 0.15}, "axis": {"title": null, "ticks": false, "labelFontSize": 11, "labelAngle": 0, "labelPadding": 3, "labelFontStyle": {"condition": {"test": "datum.value == 'WT'", "value": "normal"}, "value": "italic"}}}},
      "layer": [
       {"mark": {"type": "bar", "stroke": "black", "strokeWidth": 1.5}, "encoding": {"y": {"field": "m", "type": "quantitative", "scale": {"domain": [0, 50], "nice": false}, "axis": {"values": [0, 10, 20, 30, 40, 50], "tickCount": 20, "format": "d", "titlePadding": 0, "title": ["% Ki67⁺ cells (gated on", "Neuropilinʰⁱ Tregs)"]}}, "fill": {"field": "g", "type": "nominal", "scale": {"domain": ["WT", "Rras⁻/⁻"], "range": ["white", "black"]}, "legend": null}}},
       {"mark": {"type": "rule", "color": "black", "strokeWidth": 1.2}, "encoding": {"y": {"field": "lo", "type": "quantitative"}, "y2": {"field": "hi"}}},
       {"mark": {"type": "tick", "orient": "horizontal", "size": 12, "thickness": 1.2, "color": "black"}, "encoding": {"y": {"field": "hi", "type": "quantitative"}}},
       {"mark": {"type": "tick", "orient": "horizontal", "size": 12, "thickness": 1.2, "color": "black"}, "encoding": {"y": {"field": "lo", "type": "quantitative"}}}
      ]},
     {"data": {"name": "sig"}, "transform": [{"filter": "datum.p == 'G' && datum.t == 'BLN'"}],
      "layer": [
       {"mark": {"type": "rule", "color": "black", "strokeWidth": 1, "xOffset": -9, "x2Offset": 7}, "encoding": {"x": {"datum": "WT"}, "x2": {"datum": "Rras⁻/⁻"}, "y": {"field": "ys", "type": "quantitative"}}},
       {"mark": {"type": "text", "fontSize": 14, "fontWeight": "bold", "baseline": "alphabetic", "dy": 1}, "encoding": {"x": {"datum": "WT", "bandPosition": 1.21}, "y": {"field": "ys", "type": "quantitative"}, "text": {"field": "s"}}}
      ]}
    ]},
   {"width": 57, "height": 92, "title": {"text": "Spleen", "offset": 7, "frame": "group"},
    "layer": [
     {"data": {"name": "bars"}, "transform": [{"filter": "datum.p == 'G' && datum.t == 'Spleen'"}],
      "encoding": {"x": {"field": "g", "type": "nominal", "sort": null, "scale": {"domain": ["WT", "Rras⁻/⁻"], "paddingInner": 0.3, "paddingOuter": 0.15}, "axis": {"title": null, "ticks": false, "labelFontSize": 11, "labelAngle": 0, "labelPadding": 3, "labelFontStyle": {"condition": {"test": "datum.value == 'WT'", "value": "normal"}, "value": "italic"}}}},
      "layer": [
       {"mark": {"type": "bar", "stroke": "black", "strokeWidth": 1.5}, "encoding": {"y": {"field": "m", "type": "quantitative", "scale": {"domain": [0, 50], "nice": false}, "axis": {"values": [0, 10, 20, 30, 40, 50], "tickCount": 20, "format": "d", "title": null}}, "fill": {"field": "g", "type": "nominal", "scale": {"domain": ["WT", "Rras⁻/⁻"], "range": ["white", "black"]}, "legend": null}}},
       {"mark": {"type": "rule", "color": "black", "strokeWidth": 1.2}, "encoding": {"y": {"field": "lo", "type": "quantitative"}, "y2": {"field": "hi"}}},
       {"mark": {"type": "tick", "orient": "horizontal", "size": 12, "thickness": 1.2, "color": "black"}, "encoding": {"y": {"field": "hi", "type": "quantitative"}}},
       {"mark": {"type": "tick", "orient": "horizontal", "size": 12, "thickness": 1.2, "color": "black"}, "encoding": {"y": {"field": "lo", "type": "quantitative"}}}
      ]},
     {"data": {"name": "sig"}, "transform": [{"filter": "datum.p == 'G' && datum.t == 'Spleen'"}],
      "layer": [
       {"mark": {"type": "rule", "color": "black", "strokeWidth": 1, "xOffset": -9, "x2Offset": 7}, "encoding": {"x": {"datum": "WT"}, "x2": {"datum": "Rras⁻/⁻"}, "y": {"field": "ys", "type": "quantitative"}}},
       {"mark": {"type": "text", "fontSize": 14, "fontWeight": "bold", "baseline": "alphabetic", "dy": 1}, "encoding": {"x": {"datum": "WT", "bandPosition": 1.21}, "y": {"field": "ys", "type": "quantitative"}, "text": {"field": "s"}}}
      ]}
    ]}
  ]}
  ]}
 ]}
]}
]
}
